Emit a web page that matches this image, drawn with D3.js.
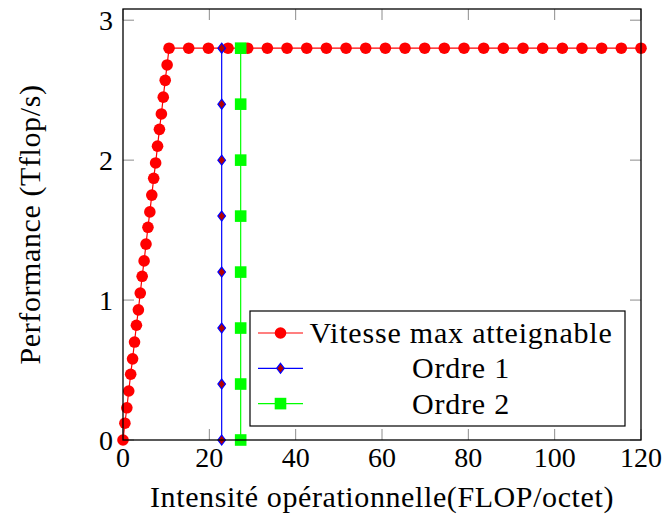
<!DOCTYPE html>
<style>
body { margin: 0; background: #fff; }
</style>
<body></body>
<script src="https://cdn.jsdelivr.net/npm/d3@7"></script>
<script>
// roofline: vitesse max atteignable
const roofX = [0, 0.44, 0.89, 1.33, 1.78, 2.22, 2.67, 3.11, 3.56, 4.0, 4.44, 4.89, 5.33, 5.78, 6.22,
    6.67, 7.11, 7.56, 8.0, 8.44, 8.89, 9.33, 9.78, 10.22, 10.67,
    15.22, 19.78, 24.33, 28.89, 33.44, 38.0, 42.56, 47.11, 51.67, 56.22, 60.78, 65.33, 69.89,
    74.44, 79.0, 83.56, 88.11, 92.67, 97.22, 101.78, 106.33, 110.89, 115.44, 120.0]
const roofY = [0, 0.12, 0.23, 0.35, 0.47, 0.58, 0.70, 0.82, 0.93, 1.05, 1.17, 1.28, 1.40, 1.52, 1.63,
    1.75, 1.87, 1.98, 2.10, 2.22, 2.33, 2.45, 2.57, 2.68, 2.80,
    2.8, 2.8, 2.8, 2.8, 2.8, 2.8, 2.8, 2.8, 2.8, 2.8, 2.8, 2.8, 2.8,
    2.8, 2.8, 2.8, 2.8, 2.8, 2.8, 2.8, 2.8, 2.8, 2.8, 2.8]

// ordre 1 et ordre 2 (intensité constante)
const ordre1X = [22.86, 22.86, 22.86, 22.86, 22.86, 22.86, 22.86, 22.86]
const ordre2X = [27.26, 27.26, 27.26, 27.26, 27.26, 27.26, 27.26, 27.26]
const ordreY = [0, 0.4, 0.8, 1.2, 1.6, 2.0, 2.4, 2.8]

const xTicks = [0, 20, 40, 60, 80, 100, 120]
const yTicks = [0, 1, 2, 3]
const legendLabels = ['Vitesse max atteignable', 'Ordre 1', 'Ordre 2']

const width = 664
const height = 521
const margins = { top: 9, right: 23, bottom: 81, left: 123 }
const w = width - margins.left - margins.right
const h = height - margins.top - margins.bottom
const font = "'Liberation Serif', 'Times New Roman', serif"

const x = d3.scaleLinear().domain([0, 120]).range([0, w])
const y = d3.scaleLinear().domain([0, 3.08]).range([h, 0])

const svg = d3.select('body').append('svg')
    .attr('width', width)
    .attr('height', height)
    .attr('font-family', font)

const g = svg.append('g')
    .attr('transform', `translate(${margins.left}, ${margins.top})`)

// ticks inside on all four sides
const tickLen = 11
const tickColor = '#8c8c8c'
g.selectAll('.xt').data(xTicks).enter().append('line')
    .attr('x1', d => x(d)).attr('x2', d => x(d))
    .attr('y1', h).attr('y2', h - tickLen)
    .attr('stroke', tickColor).attr('stroke-width', 1)
g.selectAll('.xtt').data(xTicks).enter().append('line')
    .attr('x1', d => x(d)).attr('x2', d => x(d))
    .attr('y1', 0).attr('y2', tickLen)
    .attr('stroke', tickColor).attr('stroke-width', 1)
g.selectAll('.yt').data(yTicks).enter().append('line')
    .attr('x1', 0).attr('x2', tickLen)
    .attr('y1', d => y(d)).attr('y2', d => y(d))
    .attr('stroke', tickColor).attr('stroke-width', 1)
g.selectAll('.ytr').data(yTicks).enter().append('line')
    .attr('x1', w).attr('x2', w - tickLen)
    .attr('y1', d => y(d)).attr('y2', d => y(d))
    .attr('stroke', tickColor).attr('stroke-width', 1)

// tick labels
g.selectAll('.xl').data(xTicks).enter().append('text')
    .attr('x', d => x(d)).attr('y', h + 27)
    .attr('text-anchor', 'middle')
    .style('font-size', '28px')
    .text(d => d)
g.selectAll('.yl').data(yTicks).enter().append('text')
    .attr('x', -10).attr('y', d => y(d) + 10)
    .attr('text-anchor', 'end')
    .style('font-size', '28px')
    .text(d => d)

// axis titles
g.append('text')
    .attr('x', w / 2).attr('y', h + 67)
    .attr('text-anchor', 'middle')
    .style('font-size', '30px')
    .style('letter-spacing', '0.6px')
    .text('Intensité opérationnelle(FLOP/octet)')
g.append('text')
    .attr('transform', `translate(${-83}, ${h / 2}) rotate(-90)`)
    .attr('text-anchor', 'middle')
    .style('font-size', '30px')
    .style('letter-spacing', '0.6px')
    .text('Performance (Tflop/s)')

const line = d3.line().x(d => x(d[0])).y(d => y(d[1]))

function diamond (sel) {
    return sel.attr('d', 'M0,-5 L3.8,0 L0,5 L-3.8,0 Z')
}

// roofline
const roof = d3.zip(roofX, roofY)
g.append('path').datum(roof)
    .attr('d', line).attr('fill', 'none').attr('stroke', '#ff0000').attr('stroke-width', 1.2)
g.selectAll('.roof').data(roof).enter().append('circle')
    .attr('cx', d => x(d[0])).attr('cy', d => y(d[1]))
    .attr('r', 5.8).attr('fill', '#ff0000')

// ordre 1
const o1 = d3.zip(ordre1X, ordreY)
g.append('path').datum(o1)
    .attr('d', line).attr('fill', 'none').attr('stroke', '#0000ff').attr('stroke-width', 1.2)
g.selectAll('.o1').data(o1).enter().append('path')
    .call(diamond)
    .attr('transform', d => `translate(${x(d[0])}, ${y(d[1])})`)
    .attr('fill', '#b30000').attr('stroke', '#0000ff').attr('stroke-width', 1.2)

// ordre 2
const o2 = d3.zip(ordre2X, ordreY)
g.append('path').datum(o2)
    .attr('d', line).attr('fill', 'none').attr('stroke', '#00ff00').attr('stroke-width', 1.2)
g.selectAll('.o2').data(o2).enter().append('rect')
    .attr('x', d => x(d[0]) - 5.8).attr('y', d => y(d[1]) - 5.8)
    .attr('width', 11.6).attr('height', 11.6)
    .attr('fill', '#00ff00')

// frame
g.append('rect')
    .attr('width', w).attr('height', h)
    .attr('fill', 'none').attr('stroke', '#000').attr('stroke-width', 1.3)

// legend
const lg = g.append('g').attr('transform', `translate(${250 - margins.left}, ${311 - margins.top})`)
lg.append('rect')
    .attr('width', 375).attr('height', 115)
    .attr('fill', '#fff').attr('stroke', '#000').attr('stroke-width', 1.2)
const legendColors = ['#ff0000', '#0000ff', '#00ff00']
legendLabels.forEach((label, i) => {
    const cy = 22 + i * 35.3
    lg.append('line')
        .attr('x1', 8).attr('x2', 53).attr('y1', cy).attr('y2', cy)
        .attr('stroke', legendColors[i]).attr('stroke-width', 1.2)
    if (i === 0) {
        lg.append('circle').attr('cx', 30.5).attr('cy', cy).attr('r', 5.8).attr('fill', '#ff0000')
    } else if (i === 1) {
        lg.append('path').call(diamond)
            .attr('transform', `translate(30.5, ${cy})`)
            .attr('fill', '#b30000').attr('stroke', '#0000ff').attr('stroke-width', 1.2)
    } else {
        lg.append('rect').attr('x', 30.5 - 5.8).attr('y', cy - 5.8)
            .attr('width', 11.6).attr('height', 11.6).attr('fill', '#00ff00')
    }
    lg.append('text')
        .attr('x', 211).attr('y', cy + 10)
        .attr('text-anchor', 'middle')
        .style('font-size', '30px')
        .style('letter-spacing', '0.8px')
        .text(label)
})
</script>
